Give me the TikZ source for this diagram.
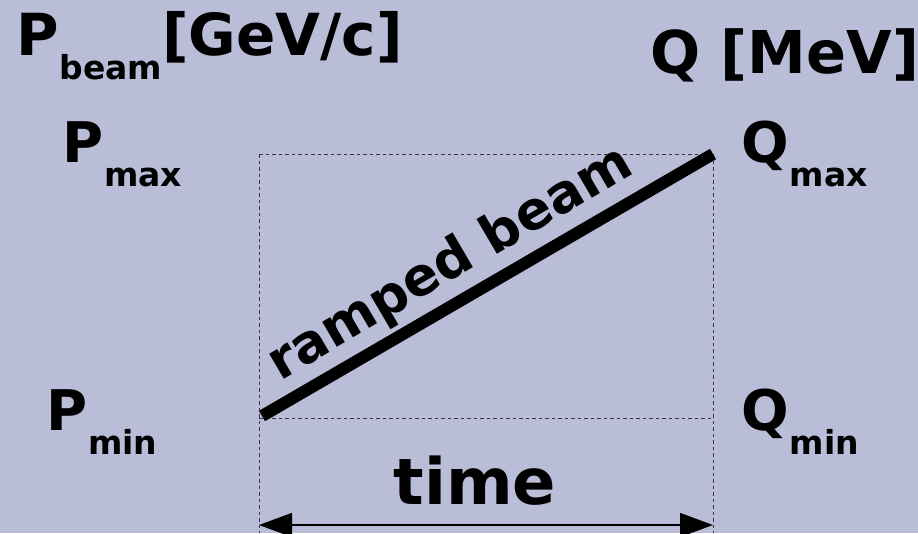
\documentclass[tikz,border=0pt]{standalone}
\usepackage{fontspec}
\setmainfont{DejaVu Sans}[BoldFont={DejaVu Sans Bold}]
\usetikzlibrary{arrows.meta}
\definecolor{bg}{RGB}{185,189,216}
\definecolor{dashgray}{RGB}{55,55,65}
\tikzset{
  lbl/.style={inner sep=0pt, anchor=base west, font=\bfseries\fontsize{56}{56}\selectfont},
  guide/.style={draw=dashgray, line width=1pt, dash pattern=on 3.5pt off 3pt},
}
\newcommand{\subsc}[1]{\hspace{1pt}\raisebox{-24pt}{\fontsize{33}{33}\selectfont #1}}
\begin{document}
\begin{tikzpicture}[x=1pt,y=-1pt]
\fill[bg] (0,0) rectangle (918,533);
\useasboundingbox (0,0) rectangle (918,533);
% frame coordinates
\coordinate (tl) at (259,154);
\coordinate (tr) at (713,154);
\coordinate (bl) at (259,418);
\coordinate (br) at (713,418);
\coordinate (ll) at (259,533);
\coordinate (lr) at (713,533);
\coordinate (al) at (259,525);
\coordinate (ar) at (713,525);
\coordinate (rs) at (262,416);
\coordinate (re) at (713,154);
% dashed guides
\draw[guide] (tl) -- (tr);
\draw[guide] (bl) -- (br);
\draw[guide] (tl) -- (ll);
\draw[guide] (tr) -- (lr);
% ramp
\draw[line width=12pt] (rs) -- (re);
\node[inner sep=0pt, anchor=base, rotate=30.4, font=\bfseries\fontsize{53}{53}\selectfont] (ramp) at (458,277) {ramped beam};
% time arrow
\draw[line width=1.5pt, {Triangle[length=33pt,width=24pt]}-{Triangle[length=33pt,width=24pt]}] (al) -- (ar);
\node[inner sep=0pt, anchor=base, font=\bfseries\fontsize{64}{64}\selectfont] (time) at (475,504) {time};
% labels
\node[lbl, font=\bfseries\fontsize{58}{58}\selectfont] (pbeam) at (16,55) {P\subsc{beam}[GeV/c]};
\node[lbl, font=\bfseries\fontsize{59}{59}\selectfont] (qmev) at (650,73) {Q [MeV]};
\node[lbl] (pmax) at (62,162) {P\subsc{max}};
\node[lbl] (qmax) at (741,162) {Q\subsc{max}};
\node[lbl] (pmin) at (46,430) {P\subsc{min}};
\node[lbl] (qmin) at (741,430) {Q\subsc{min}};
\end{tikzpicture}
\end{document}
